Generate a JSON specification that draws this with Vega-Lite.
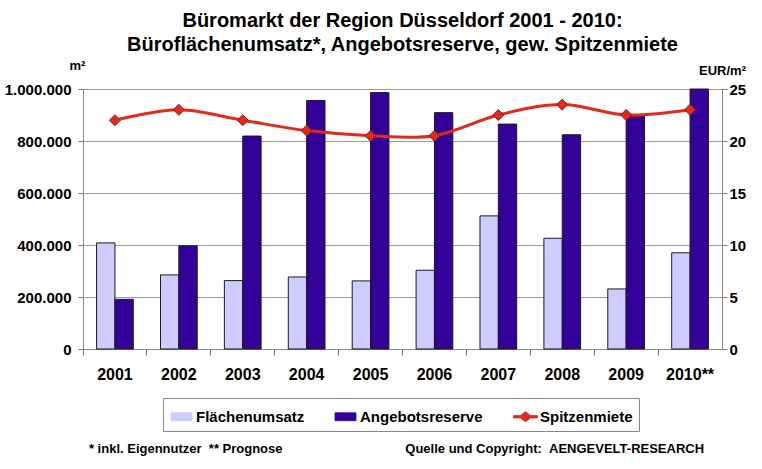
{
  "$schema": "https://vega.github.io/schema/vega-lite/v6.json",
  "width": 639,
  "height": 260,
  "autosize": {"type": "none"},
  "padding": {"left": 83, "top": 89, "right": 40, "bottom": 120},
  "background": "white",
  "config": {
    "locale": {"number": {"decimal": ",", "thousands": ".", "grouping": [3], "currency": ["", " €"]}},
    "font": "Liberation Sans",
    "view": {"stroke": null},
    "axis": {"labelFont": "Liberation Sans", "titleFont": "Liberation Sans", "labelColor": "#000", "titleColor": "#000"}
  },
  "title": {
    "text": ["Büromarkt der Region Düsseldorf 2001 - 2010:", "Büroflächenumsatz*, Angebotsreserve, gew. Spitzenmiete"],
    "font": "Liberation Sans",
    "fontSize": 20,
    "fontWeight": "bold",
    "color": "#000",
    "anchor": "middle",
    "lineHeight": 24,
    "offset": 4
  },
  "data": {
    "values": [
      {"Jahr": "2001", "Flächenumsatz": 408000, "Angebotsreserve": 191000, "Spitzenmiete": 22.0},
      {"Jahr": "2002", "Flächenumsatz": 285000, "Angebotsreserve": 397000, "Spitzenmiete": 23.0},
      {"Jahr": "2003", "Flächenumsatz": 263000, "Angebotsreserve": 819000, "Spitzenmiete": 22.0},
      {"Jahr": "2004", "Flächenumsatz": 277000, "Angebotsreserve": 956000, "Spitzenmiete": 21.0},
      {"Jahr": "2005", "Flächenumsatz": 262000, "Angebotsreserve": 986000, "Spitzenmiete": 20.5},
      {"Jahr": "2006", "Flächenumsatz": 303000, "Angebotsreserve": 909000, "Spitzenmiete": 20.5},
      {"Jahr": "2007", "Flächenumsatz": 512000, "Angebotsreserve": 865000, "Spitzenmiete": 22.5},
      {"Jahr": "2008", "Flächenumsatz": 426000, "Angebotsreserve": 824000, "Spitzenmiete": 23.5},
      {"Jahr": "2009", "Flächenumsatz": 231000, "Angebotsreserve": 894000, "Spitzenmiete": 22.5},
      {"Jahr": "2010**", "Flächenumsatz": 370000, "Angebotsreserve": 1000000, "Spitzenmiete": 23.0}
    ]
  },
  "encoding": {
    "x": {
      "field": "Jahr",
      "type": "nominal",
      "sort": null,
      "scale": {"paddingInner": 0, "paddingOuter": 0},
      "axis": {
        "title": "* inkl. Eigennutzer \u00a0** Prognose\u00a0\u00a0\u00a0\u00a0\u00a0\u00a0\u00a0\u00a0\u00a0\u00a0\u00a0\u00a0\u00a0\u00a0\u00a0\u00a0\u00a0\u00a0\u00a0\u00a0\u00a0\u00a0\u00a0\u00a0\u00a0\u00a0\u00a0\u00a0\u00a0\u00a0\u00a0\u00a0\u00a0\u00a0Quelle und Copyright: \u00a0AENGEVELT-RESEARCH",
        "titleFontSize": 13,
        "titleFontWeight": "bold",
        "titlePadding": 60,
        "titleX": 313,
        "titleAlign": "center",
        "labelAngle": 0,
        "labelFontSize": 16,
        "labelFontWeight": "bold",
        "labelPadding": 11,
        "tickSize": 6,
        "tickColor": "#777",
        "domainColor": "#888",
        "bandPosition": 0,
        "grid": false
      }
    }
  },
  "layer": [
    {
      "transform": [{"fold": ["Flächenumsatz", "Angebotsreserve"], "as": ["Serie", "Wert"]}],
      "mark": {"type": "bar", "stroke": "#1a1a1a", "strokeWidth": 1},
      "encoding": {
        "xOffset": {"field": "Serie", "type": "nominal", "sort": ["Flächenumsatz", "Angebotsreserve"], "scale": {"paddingInner": 0, "paddingOuter": 0.74}},
        "y": {
          "field": "Wert",
          "type": "quantitative",
          "scale": {"domain": [0, 1000000], "nice": false},
          "axis": {
            "title": "m²",
            "titleAngle": 0,
            "titleX": -6,
            "titleY": -20,
            "titleAlign": "center",
            "titleBaseline": "alphabetic",
            "titleFontSize": 13,
            "titleFontWeight": "bold",
            "values": [0, 200000, 400000, 600000, 800000, 1000000],
            "format": ",d",
            "labelFontSize": 15,
            "labelFontWeight": "bold",
            "labelPadding": 7,
            "tickSize": 5,
            "tickColor": "#777",
            "domainColor": "#888",
            "grid": true,
            "gridColor": "#999",
            "gridWidth": 1
          }
        },
        "color": {
          "field": "Serie",
          "type": "nominal",
          "scale": {"domain": ["Flächenumsatz", "Angebotsreserve", "Spitzenmiete"], "range": ["#ccccff", "#330099", "#e3281c"]},
          "legend": {
            "title": null,
            "orient": "none",
            "legendX": 80,
            "legendY": 309,
            "direction": "horizontal",
            "columns": 3,
            "labelFont": "Liberation Sans",
            "labelFontSize": 15,
            "labelFontWeight": "bold",
            "labelColor": "#000",
            "labelOffset": 2,
            "columnPadding": 28,
            "symbolSize": 576,
            "padding": 6,
            "strokeColor": "#888",
            "fillColor": "#fff",
            "symbolType": {"expr": "datum.value === 'Spitzenmiete' ? 'M-1,-0.1L-0.42,-0.1L0,-0.42L0.42,-0.1L1,-0.1L1,0.1L0.42,0.1L0,0.42L-0.42,0.1L-1,0.1Z' : 'M-0.875,-0.33L0.875,-0.33L0.875,0.33L-0.875,0.33Z'"},
            "symbolStrokeColor": {"expr": "datum.value === 'Spitzenmiete' ? '#a01810' : '#222'"},
            "symbolStrokeWidth": 0.8,
            "symbolOpacity": 1
          }
        }
      }
    },
    {
      "encoding": {
        "y": {
          "field": "Spitzenmiete",
          "type": "quantitative",
          "scale": {"domain": [0, 25], "nice": false},
          "axis": {
            "orient": "right",
            "title": "EUR/m²",
            "titleAngle": 0,
            "titleX": 0,
            "titleY": -15,
            "titleAlign": "center",
            "titleBaseline": "alphabetic",
            "titleFontSize": 13,
            "titleFontWeight": "bold",
            "values": [0, 5, 10, 15, 20, 25],
            "labelFontSize": 15,
            "labelFontWeight": "bold",
            "labelPadding": 2,
            "tickSize": 5,
            "tickColor": "#777",
            "domainColor": "#888",
            "grid": false
          }
        }
      },
      "layer": [
        {
          "mark": {"type": "line", "interpolate": "catmull-rom", "strokeWidth": 3},
          "encoding": {"color": {"datum": "Spitzenmiete", "type": "nominal", "legend": null}}
        },
        {
          "mark": {"type": "point", "shape": "diamond", "filled": true, "size": 120, "fill": "#e3281c", "stroke": "#8a1a10", "strokeWidth": 1, "opacity": 1},
          "encoding": {}
        }
      ]
    }
  ],
  "resolve": {"scale": {"y": "independent"}}
}
